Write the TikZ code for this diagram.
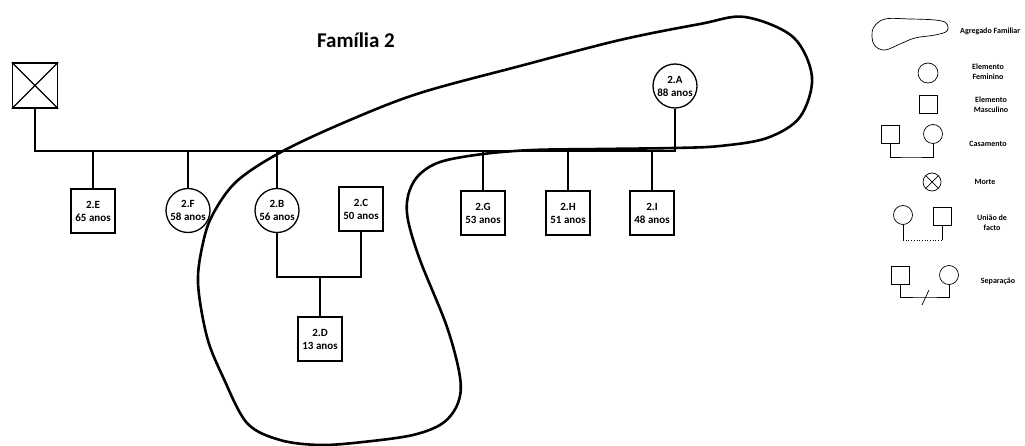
\documentclass[tikz,border=0pt]{standalone}
\usepackage{fontspec}
\setmainfont{Carlito}
\begin{document}
\begin{tikzpicture}[x=1pt,y=-1pt,
  ln/.style={line width=1.3pt},
  pbox/.style={draw, line width=1.3pt, minimum width=44pt, minimum height=44pt, inner sep=0pt, align=center, font=\fontsize{11}{13}\selectfont\bfseries},
  pcirc/.style={draw, circle, line width=1.3pt, minimum size=44pt, inner sep=0pt, align=center, font=\fontsize{11}{13}\selectfont\bfseries},
  blob/.style={line width=2.6pt, line join=round},
  leg/.style={line width=0.7pt},
  lbox/.style={draw, line width=0.7pt, minimum size=18pt, inner sep=0pt},
  lcirc/.style={draw, circle, line width=0.7pt, minimum size=19pt, inner sep=0pt},
  legtxt/.style={font=\fontsize{8}{10}\selectfont\bfseries, align=center, inner sep=0pt}]
\useasboundingbox (0,0) rectangle (1025,446);

% title
\node[font=\fontsize{21}{24}\selectfont\bfseries] (title) at (356,40) {Família 2};

% dead ancestor
\node[draw, ln, minimum size=45pt, inner sep=0pt] (dead) at (35,85.5) {};
\draw[ln] (dead.north west) -- (dead.south east) (dead.north east) -- (dead.south west);

% 2.A
\node[pcirc] (A) at (675,86) {2.A\\88 anos};

\coordinate (bar) at (675,151);
\draw[ln] (dead.south) |- (bar) -- (A.south);

% children
\node[pbox] (E) at (93,211) {2.E\\65 anos};
\node[pcirc] (F) at (188,210.5) {2.F\\58 anos};
\node[pcirc] (B) at (277,210.5) {2.B\\56 anos};
\node[pbox] (C) at (361,209) {2.C\\50 anos};
\node[pbox] (G) at (483,213) {2.G\\53 anos};
\node[pbox] (H) at (568,213) {2.H\\51 anos};
\node[pbox] (I) at (652,213) {2.I\\48 anos};
\node[pbox] (D) at (320,339) {2.D\\13 anos};

\foreach \n in {E,F,B,G,H,I} {\draw[ln] (\n.north) -- (\n.north |- bar);}

\coordinate (bc) at (320,277);
\draw[ln] (B.south) |- (bc) -| (C.south);
\draw[ln] (bc) -- (D.north);

% household outline
\draw[blob] plot[smooth cycle, tension=0.55] coordinates {
 (320,445) (280,440) (247,423) (223,377) (207,337) (198,283) (203,243)
 (213,214) (237,181) (283,151) (350,120) (420,93) (520,66) (620,40)
 (700,24) (745,17) (793,37) (812,77) (800,117) (767,138) (720,146)
 (674,148) (600,149) (533,150) (483,154) (440,162) (418,176) (408,196)
 (408,220) (420,260) (447,327) (460,377) (458,403) (443,423) (413,435) (363,442)};

% legend
\draw[leg] plot[smooth cycle, tension=0.6] coordinates {
 (874,27) (885,19) (910,19) (935,20) (946,23) (947,31) (935,35)
 (915,38) (900,44) (885,50) (875,46) (872,37)};
\node[legtxt, anchor=west] (tagr) at (960,31) {Agregado Familiar};

\node[lcirc, minimum size=20pt] (fem) at (928,73) {};
\node[legtxt] (tfem) at (988,71.5) {Elemento\\Feminino};

\node[lbox] (masc) at (928,104.5) {};
\node[legtxt] (tmasc) at (991,104.5) {Elemento\\Masculino};

\node[lbox] (casS) at (890,134.5) {};
\node[lcirc] (casC) at (933,134) {};
\coordinate (casj) at (911,157);
\draw[leg] (casS.south) |- (casj) -| (casC.south);
\node[legtxt] (tcas) at (988,144) {Casamento};

\node[lcirc, minimum size=18pt] (mort) at (932,182) {};
\draw[leg] (mort.north west) -- (mort.south east) (mort.north east) -- (mort.south west);
\node[legtxt] (tmort) at (985,182) {Morte};

\node[lcirc] (uC) at (903,215) {};
\node[lbox] (uS) at (942,216.5) {};
\coordinate (uj) at (922,240);
\draw[leg] (uC.south) -- (uC.south |- uj);
\draw[leg, dotted] (uC.south |- uj) -- (uS.south |- uj);
\draw[leg] (uS.south |- uj) -- (uS.south);
\node[legtxt] (tuni) at (992,223) {União de\\facto};

\node[lbox] (sS) at (900,275.5) {};
\node[lcirc] (sC) at (949,275) {};
\coordinate (sj) at (925,297);
\draw[leg] (sS.south) |- (sj) -| (sC.south);
\draw[leg] ([shift={(-3,8)}]sj) -- ([shift={(4,-7)}]sj);
\node[legtxt] (tsep) at (998,281) {Separação};
\end{tikzpicture}
\end{document}
